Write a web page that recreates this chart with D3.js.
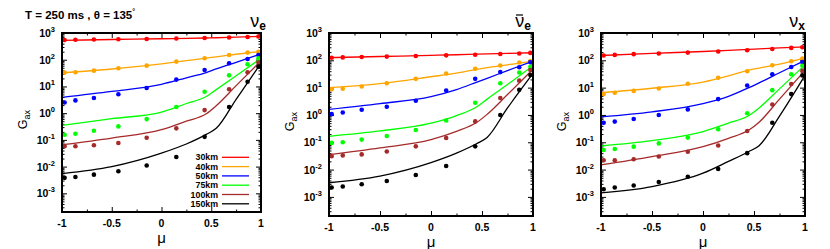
<!DOCTYPE html>
<html>
<head>
<meta charset="utf-8">
<title>G_ax vs mu</title>
<script src="https://cdn.jsdelivr.net/npm/d3@7"></script>
<style>
  body { margin: 0; background: #fff; }
  text { font-family: "Liberation Sans", Arial, sans-serif; }
</style>
</head>
<body>
<script>
// angular nodes where the dots sit (10-point Gauss-Legendre)
const muNodes = [-0.9739, -0.8651, -0.6794, -0.4334, -0.1489, 0.1489, 0.4334, 0.6794, 0.8651, 0.9739];
// mu grid for the solid curves
const lineMu = [-1, -0.5, 0, 0.25, 0.45, 0.55, 0.75, 1];

const radii = ["30km", "40km", "50km", "75km", "100km", "150km"];
const colors = ["#ff0000", "#ffa500", "#0000ff", "#00ff00", "#a52a2a", "#000000"];

// nu_e
const nueLines = [
  [530, 570, 610, 630, 650, 665, 700, 750],
  [32, 45, 70, 92, 115, 128, 160, 205],
  [3.9, 6.5, 12, 21, 33, 45, 80, 165],
  [0.35, 0.62, 1.1, 2.3, 4.2, 7.6, 25, 112],
  [0.066, 0.117, 0.24, 0.5, 0.95, 1.9, 10.7, 91],
  [0.0055, 0.010, 0.032, 0.07, 0.16, 0.27, 3.3, 74]
];
const nuePoints = [
  [550, 560, 570, 585, 600, 620, 650, 680, 710, 740],
  [33, 34, 39, 48, 60, 85, 113, 150, 185, 200],
  [2.5, 3.0, 3.7, 5.1, 8.7, 18, 41, 74, 107, 150],
  [0.155, 0.17, 0.22, 0.32, 0.60, 1.7, 6.3, 26, 68, 112],
  [0.058, 0.058, 0.063, 0.076, 0.12, 0.27, 1.3, 7.9, 34, 78],
  [0.0038, 0.0041, 0.005, 0.0067, 0.011, 0.023, 0.13, 1.7, 15, 55]
];

// anti nu_e
const nuebLines = [
  [125, 138, 152, 160, 168, 172, 180, 190],
  [10, 14, 25, 34, 47, 54, 68, 96],
  [1.6, 2.6, 4.7, 8.5, 16, 22, 42, 94],
  [0.165, 0.26, 0.5, 0.95, 2.0, 3.8, 13, 63],
  [0.035, 0.062, 0.125, 0.25, 0.54, 1.05, 5.6, 47],
  [0.0033, 0.0058, 0.018, 0.04, 0.09, 0.15, 1.8, 33]
];
const nuebPoints = [
  [124, 128, 133, 137, 143, 152, 160, 170, 178, 187],
  [8.7, 9.1, 11, 14.5, 21, 33, 49, 65, 83, 94],
  [1.07, 1.23, 1.55, 2.0, 3.3, 7.8, 21, 37, 56, 85],
  [0.095, 0.10, 0.125, 0.17, 0.28, 0.63, 2.8, 14.5, 36, 58],
  [0.031, 0.033, 0.036, 0.046, 0.071, 0.144, 0.58, 4.2, 18, 44],
  [0.0022, 0.0024, 0.0029, 0.0038, 0.0063, 0.0135, 0.071, 1.0, 8.3, 29]
];

// nu_x
const nuxLines = [
  [150, 180, 210, 230, 250, 262, 285, 310],
  [6.5, 9.5, 16, 27, 44, 52, 72, 123],
  [0.85, 1.3, 2.6, 4.8, 10, 15, 35, 100],
  [0.073, 0.114, 0.245, 0.5, 0.95, 1.8, 9, 68],
  [0.015, 0.03, 0.069, 0.14, 0.28, 0.54, 3.8, 43],
  [0.0014, 0.0024, 0.0074, 0.02, 0.046, 0.075, 0.9, 28]
];
const nuxPoints = [
  [150, 158, 168, 178, 192, 210, 235, 260, 285, 300],
  [5.8, 6.5, 7.6, 9.3, 13.8, 23, 40, 66, 93, 115],
  [0.52, 0.57, 0.71, 1.0, 1.6, 3.8, 12, 31, 57, 87],
  [0.052, 0.057, 0.069, 0.091, 0.148, 0.30, 1.15, 8.1, 31, 63],
  [0.022, 0.022, 0.024, 0.03, 0.045, 0.076, 0.26, 2.4, 13.5, 41],
  [0.0019, 0.0022, 0.0026, 0.0035, 0.0055, 0.0105, 0.04, 0.52, 5.8, 28]
];

const xTickLabels = ["-1", "-0.5", "0", "0.5", "1"];
const xTicks = [-1, -0.5, 0, 0.5, 1];
const xMinor = [-0.75, -0.25, 0.25, 0.75];
const yExponents = [-3, -2, -1, 0, 1, 2, 3];

const width = 830, height = 249;
const svg = d3.select("body").append("svg")
    .attr("width", width)
    .attr("height", height);

function drawPanel(box, lines, points, species) {
  const x = d3.scaleLinear().domain([-1, 1]).range([box.x0, box.x1]);
  const y = d3.scaleLog().domain([2e-4, 1e3]).range([box.y1, box.y0]);
  const g = svg.append("g");

  const decades = yExponents.map(e => Math.pow(10, e));
  const minors = [];
  for (let e = -4; e <= 2; e++)
    for (let k = 2; k <= 9; k++) {
      const v = k * Math.pow(10, e);
      if (v > 2e-4 && v < 1e3) minors.push(v);
    }

  // inward ticks on all four sides
  [[d3.axisLeft(y), `translate(${box.x0},0)`], [d3.axisRight(y), `translate(${box.x1},0)`]]
    .forEach(([ax, tr]) => {
      g.append("g").attr("transform", tr)
        .call(ax.tickValues(decades).tickSize(-5).tickSizeOuter(0).tickFormat(""));
      g.append("g").attr("transform", tr)
        .call(ax.tickValues(minors).tickSize(-2.5).tickSizeOuter(0).tickFormat(""));
    });
  [[d3.axisBottom(x), `translate(0,${box.y1})`], [d3.axisTop(x), `translate(0,${box.y0})`]]
    .forEach(([ax, tr]) => {
      g.append("g").attr("transform", tr)
        .call(ax.tickValues(xTicks).tickSize(-5).tickSizeOuter(0).tickFormat(""));
      g.append("g").attr("transform", tr)
        .call(ax.tickValues(xMinor).tickSize(-2.5).tickSizeOuter(0).tickFormat(""));
    });
  g.selectAll(".domain").remove();
  g.selectAll(".tick line").attr("stroke", "#000").attr("stroke-width", 1);

  // y tick labels 10^n
  yExponents.forEach(e => {
    const t = g.append("text")
      .attr("x", box.x0 - 7)
      .attr("y", y(Math.pow(10, e)) + 4)
      .attr("text-anchor", "end")
      .attr("font-size", 10.5)
      .attr("font-weight", "bold");
    t.append("tspan").text("10");
    t.append("tspan").attr("dy", -5).attr("font-size", 7.5).text(e);
  });

  // x tick labels
  xTicks.forEach((v, i) => {
    g.append("text")
      .attr("x", x(v))
      .attr("y", box.y1 + 15)
      .attr("text-anchor", "middle")
      .attr("font-size", 10.5)
      .attr("font-weight", "bold")
      .text(xTickLabels[i]);
  });

  g.append("text")
    .attr("x", (box.x0 + box.x1) / 2)
    .attr("y", box.y1 + 31)
    .attr("text-anchor", "middle")
    .attr("font-size", 15)
    .text("μ");

  const yl = g.append("text")
    .attr("transform", `translate(${box.x0 - 35},${(box.y0 + box.y1) / 2 - 3}) rotate(-90)`)
    .attr("text-anchor", "middle")
    .attr("font-size", 12.5);
  yl.append("tspan").text("G");
  yl.append("tspan").attr("dy", 3).attr("font-size", 9).text("ax");

  // curves
  const line = d3.line()
    .x((d, i) => x(lineMu[i]))
    .y(d => y(d))
    .curve(d3.curveMonotoneX);
  lines.forEach((vals, k) => {
    g.append("path")
      .attr("d", line(vals))
      .attr("fill", "none")
      .attr("stroke", colors[k])
      .attr("stroke-width", 1.3);
  });

  // dots
  points.forEach((vals, k) => {
    g.append("g").selectAll("circle")
      .data(vals)
      .join("circle")
        .attr("cx", (d, i) => x(muNodes[i]))
        .attr("cy", d => y(d))
        .attr("r", 2.3)
        .attr("fill", colors[k]);
  });

  // frame
  g.append("rect")
    .attr("x", box.x0).attr("y", box.y0)
    .attr("width", box.x1 - box.x0).attr("height", box.y1 - box.y0)
    .attr("fill", "none")
    .attr("stroke", "#000")
    .attr("stroke-width", 2);

  // species label
  const sp = g.append("text")
    .attr("x", species.x)
    .attr("y", 27)
    .attr("text-anchor", "end")
    .attr("font-size", 18);
  sp.append("tspan").text("ν");
  sp.append("tspan").attr("dy", 3).attr("font-size", 12).attr("font-weight", "bold").text(species.sub);
  if (species.bar) {
    g.append("line")
      .attr("x1", species.x - 15).attr("x2", species.x - 8)
      .attr("y1", 15).attr("y2", 15)
      .attr("stroke", "#000").attr("stroke-width", 1.2);
  }
}

drawPanel({ x0: 62, x1: 261, y0: 33, y1: 212 }, nueLines, nuePoints, { x: 266, sub: "e" });
drawPanel({ x0: 329, x1: 533, y0: 33, y1: 216 }, nuebLines, nuebPoints, { x: 531, sub: "e", bar: true });
drawPanel({ x0: 601, x1: 805, y0: 33, y1: 216 }, nuxLines, nuxPoints, { x: 805, sub: "x" });

// legend in the first panel
const legend = svg.append("g");
radii.forEach((r, i) => {
  const yy = 157.3 + i * 9.3;
  legend.append("text")
    .attr("x", 218).attr("y", yy + 3)
    .attr("text-anchor", "end")
    .attr("font-size", 8.8)
    .attr("font-weight", "bold")
    .text(r);
  legend.append("line")
    .attr("x1", 222).attr("x2", 249)
    .attr("y1", yy).attr("y2", yy)
    .attr("stroke", colors[i])
    .attr("stroke-width", 1.3);
});

// title
const title = svg.append("text")
  .attr("x", 25).attr("y", 18.5)
  .attr("font-size", 11.5)
  .attr("font-weight", "bold");
title.append("tspan").text("T = 250 ms , θ = 135");
title.append("tspan").attr("dy", -5).attr("font-size", 7).text("°");
</script>
</body>
</html>
